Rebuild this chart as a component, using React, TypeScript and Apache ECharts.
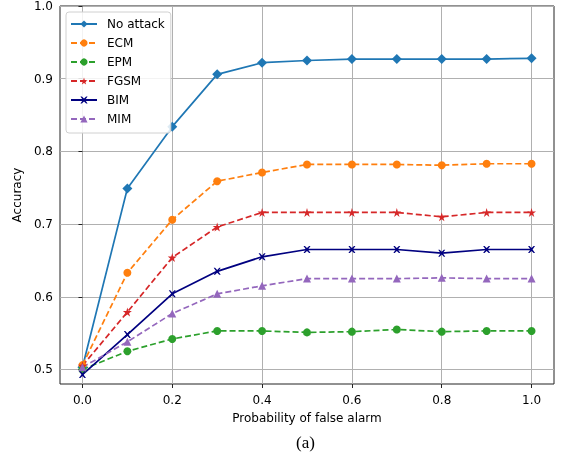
import React, { useEffect, useRef } from "react";
import * as echarts from "echarts";

const xValues = [0.0, 0.1, 0.2, 0.3, 0.4, 0.5, 0.6, 0.7, 0.8, 0.9, 1.0];
const noAttack = [0.503, 0.749, 0.834, 0.906, 0.922, 0.925, 0.927, 0.927, 0.927, 0.927, 0.928];
const ecm = [0.506, 0.633, 0.706, 0.759, 0.771, 0.782, 0.782, 0.782, 0.781, 0.783, 0.783];
const epm = [0.500, 0.525, 0.542, 0.553, 0.553, 0.551, 0.552, 0.555, 0.552, 0.553, 0.553];
const fgsm = [0.505, 0.579, 0.654, 0.696, 0.716, 0.716, 0.716, 0.716, 0.710, 0.716, 0.716];
const bim = [0.493, 0.548, 0.604, 0.635, 0.655, 0.665, 0.665, 0.665, 0.660, 0.665, 0.665];
const mim = [0.503, 0.538, 0.577, 0.604, 0.615, 0.625, 0.625, 0.625, 0.626, 0.625, 0.625];
const xTicks = [0, 0.2, 0.4, 0.6, 0.8, 1.0];
const yTicks = [0.5, 0.6, 0.7, 0.8, 0.9, 1.0];

const STAR = "path://M50,0 L61,35 L98,35 L68,57 L79,91 L50,70 L21,91 L32,57 L2,35 L39,35 Z";
const XMARK = "path://M0,0 L2,0 L5,3 L8,0 L10,0 L6.5,5 L10,10 L8,10 L5,7 L2,10 L0,10 L3.5,5 Z";

const FONT = "DejaVu Sans";

export default function App() {
  const ref = useRef<HTMLDivElement>(null);
  useEffect(() => {
    if (!ref.current) return;
    const chart = echarts.init(ref.current, null, { renderer: "svg" });
    const mk = (name: string, data: number[], color: string, symbol: string, size: number, dashed: boolean) => ({
      name,
      type: "line",
      data: xValues.map((x, i) => [x, data[i]]),
      symbol,
      symbolSize: size,
      showSymbol: true,
      lineStyle: { color, width: 1.7, type: dashed ? [6, 3] : "solid" },
      itemStyle: { color, borderWidth: 0 },
      emphasis: { disabled: true },
    });
    chart.setOption({
      animation: false,
      textStyle: { fontFamily: FONT },
      grid: { left: 60, top: 6, right: 8, bottom: 75, show: true, borderColor: "#222", borderWidth: 1, backgroundColor: "transparent" },
      legend: {
        left: 66,
        top: 12,
        orient: "vertical",
        itemWidth: 26,
        itemHeight: 9,
        itemGap: 7,
        padding: [6, 6, 8, 4],
        backgroundColor: "rgba(255,255,255,0.85)",
        borderColor: "#d0d0d0",
        borderWidth: 1,
        borderRadius: 3,
        textStyle: { fontFamily: FONT, fontSize: 12, color: "#000", padding: [0, 0, 0, 5] },
        data: ["No attack", "ECM", "EPM", "FGSM", "BIM", "MIM"],
      },
      xAxis: {
        type: "value",
        min: -0.05,
        max: 1.05,
        interval: 0.2,
        name: "Probability of false alarm",
        nameLocation: "middle",
        nameGap: 28,
        nameTextStyle: { fontFamily: FONT, fontSize: 12, color: "#000" },
        axisLine: { show: false },
        axisTick: { show: true, inside: false, length: 4, lineStyle: { color: "#222" }, customValues: xTicks },
        axisLabel: { fontFamily: FONT, fontSize: 12, color: "#000", margin: 10, customValues: xTicks, formatter: (v: number) => v.toFixed(1) },
        splitLine: { show: true, lineStyle: { color: "#b0b0b0", width: 1 } },
      },
      yAxis: {
        type: "value",
        min: 0.48,
        max: 1.0,
        interval: 0.1,
        name: "Accuracy",
        nameLocation: "middle",
        nameGap: 30,
        nameTextStyle: { fontFamily: FONT, fontSize: 12, color: "#000" },
        axisLine: { show: false },
        axisTick: { show: true, inside: false, length: 4, lineStyle: { color: "#222" }, customValues: yTicks },
        axisLabel: { fontFamily: FONT, fontSize: 12, color: "#000", margin: 7, customValues: yTicks, formatter: (v: number) => v.toFixed(1) },
        splitLine: { show: true, lineStyle: { color: "#b0b0b0", width: 1 } },
      },
      graphic: [
        {
          type: "text",
          left: 296,
          top: 434,
          style: { text: "(a)", fontFamily: "Liberation Serif", fontSize: 17, fill: "#000" },
        },
      ],
      series: [
        mk("No attack", noAttack, "#1f77b4", "diamond", 10, false),
        mk("ECM", ecm, "#ff7f0e", "circle", 8, true),
        mk("EPM", epm, "#2ca02c", "circle", 8, true),
        mk("FGSM", fgsm, "#d62728", STAR, 9, true),
        mk("BIM", bim, "#000080", XMARK, 7, false),
        mk("MIM", mim, "#9467bd", "triangle", 8, true),
      ],
    });
    return () => chart.dispose();
  }, []);
  return <div ref={ref} style={{ position: "fixed", left: 0, top: 0, width: 562, height: 459 }} />;
}
